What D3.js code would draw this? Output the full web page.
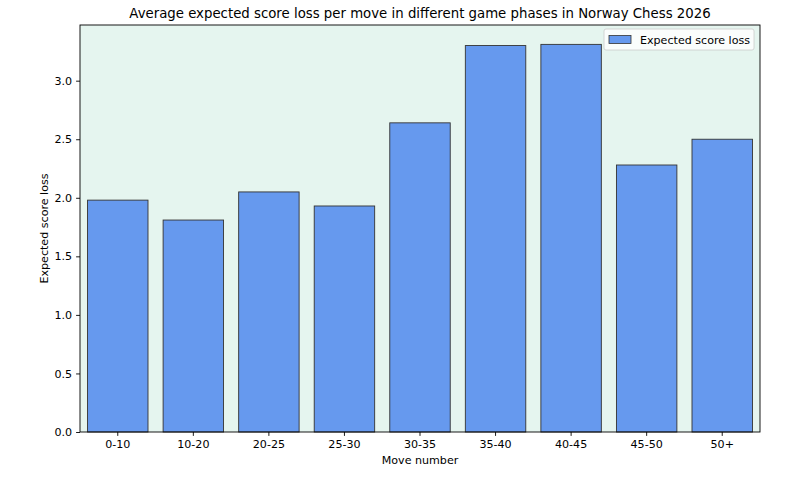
<!DOCTYPE html>
<html lang="en">
<head>
    <meta charset="UTF-8">
    <title>Norway Chess 2026</title>
    <script src="https://d3js.org/d3.v7.min.js"></script>
</head>
<style>
    body { margin: 0; background: #fff; }
    text { font-family: "DejaVu Sans", sans-serif; fill: #000; }
</style>
<body>
<script>
    const phases = ["0-10", "10-20", "20-25", "25-30", "30-35", "35-40", "40-45", "45-50", "50+"];
    const scoreLoss = [1.98, 1.81, 2.05, 1.93, 2.64, 3.30, 3.31, 2.28, 2.50];
    const yTicks = [0.0, 0.5, 1.0, 1.5, 2.0, 2.5, 3.0];

    const W = 800, H = 480;
    const m = {left: 80, right: 40, top: 25, bottom: 48};

    const svg = d3.select("body").append("svg")
            .attr("width", W).attr("height", H);

    const x = d3.scaleBand()
            .domain(phases)
            .range([m.left, W - m.right])
            .paddingInner(0.2)
            .paddingOuter(0.1);

    const y = d3.scaleLinear()
            .domain([0, d3.max(scoreLoss) * 1.05])
            .range([H - m.bottom, m.top]);

    // plot background
    svg.append("rect")
            .attr("x", m.left).attr("y", m.top)
            .attr("width", W - m.left - m.right)
            .attr("height", H - m.top - m.bottom)
            .attr("fill", "#e5f5ef");

    svg.append("g").selectAll("rect")
            .data(scoreLoss)
            .join("rect")
            .attr("x", (d, i) => x(phases[i]))
            .attr("y", d => y(d))
            .attr("width", x.bandwidth())
            .attr("height", d => y(0) - y(d))
            .attr("fill", "#6699ee")
            .attr("stroke", "#333")
            .attr("stroke-width", 0.9);

    // frame
    svg.append("rect")
            .attr("x", m.left).attr("y", m.top)
            .attr("width", W - m.left - m.right)
            .attr("height", H - m.top - m.bottom)
            .attr("fill", "none")
            .attr("stroke", "#000")
            .attr("stroke-width", 0.9);

    const xAxis = svg.append("g")
            .attr("transform", `translate(0,${H - m.bottom})`)
            .call(d3.axisBottom(x).tickSize(3.9).tickPadding(4));
    const yAxis = svg.append("g")
            .attr("transform", `translate(${m.left},0)`)
            .call(d3.axisLeft(y).tickValues(yTicks).tickFormat(d3.format(".1f")).tickSize(3.9).tickPadding(4));
    [xAxis, yAxis].forEach(a => {
        a.select(".domain").remove();
        a.selectAll("text").attr("font-size", 11.1).attr("font-family", "DejaVu Sans");
        a.selectAll("line").attr("stroke", "#000").attr("stroke-width", 0.9);
    });

    svg.append("text")
            .attr("x", (m.left + W - m.right) / 2).attr("y", 18)
            .attr("text-anchor", "middle")
            .attr("font-size", 13.3)
            .text("Average expected score loss per move in different game phases in Norway Chess 2026");

    svg.append("text")
            .attr("x", (m.left + W - m.right) / 2).attr("y", 464)
            .attr("text-anchor", "middle")
            .attr("font-size", 11.1)
            .text("Move number");

    svg.append("text")
            .attr("transform", `translate(48,${(m.top + H - m.bottom) / 2}) rotate(-90)`)
            .attr("text-anchor", "middle")
            .attr("font-size", 11.1)
            .text("Expected score loss");

    // legend
    const lg = svg.append("g").attr("transform", "translate(604,29)");
    lg.append("rect")
            .attr("width", 150).attr("height", 21).attr("rx", 2)
            .attr("fill", "#fff").attr("fill-opacity", 0.8)
            .attr("stroke", "#ccc").attr("stroke-width", 0.8);
    lg.append("rect")
            .attr("x", 5).attr("y", 6.5).attr("width", 22).attr("height", 8)
            .attr("fill", "#6699ee").attr("stroke", "#333").attr("stroke-width", 0.8);
    lg.append("text")
            .attr("x", 36).attr("y", 14.5)
            .attr("font-size", 11.1)
            .text("Expected score loss");
</script>
</body>
</html>
